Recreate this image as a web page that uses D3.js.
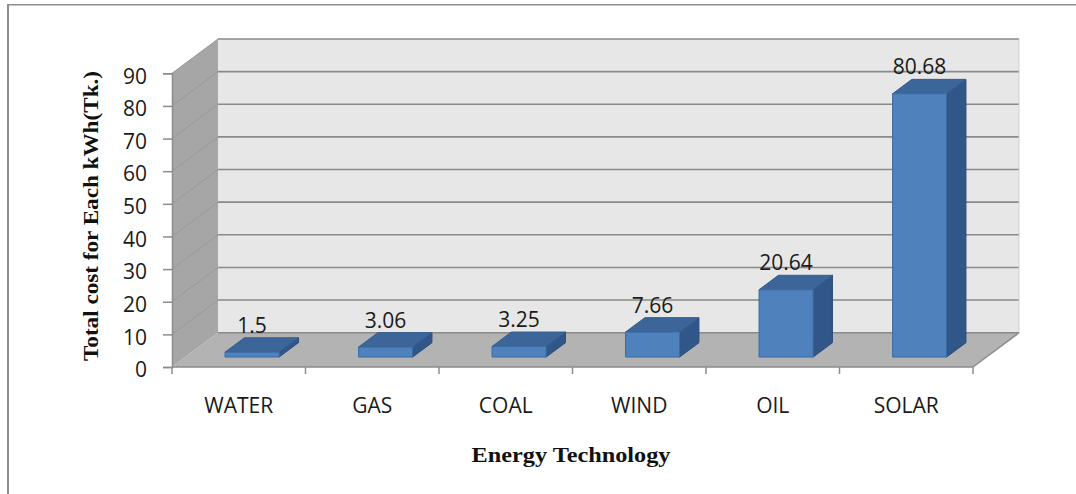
<!DOCTYPE html>
<html>
<head>
<meta charset="utf-8">
<script src="https://cdn.jsdelivr.net/npm/d3@7"></script>
<style>
  html, body { margin: 0; padding: 0; background: #ffffff; }
  svg { display: block; }
</style>
</head>
<body>
<svg id="chart" width="1076" height="494"></svg>
<script>
// Cost of generating one kWh by energy technology (Tk.)
const categories = ["WATER", "GAS", "COAL", "WIND", "OIL", "SOLAR"];
const costs = [1.5, 3.06, 3.25, 7.66, 20.64, 80.68];
const yTicks = [0, 10, 20, 30, 40, 50, 60, 70, 80, 90];
const yTitle = "Total cost for Each kWh(Tk.)";
const xTitle = "Energy Technology";

const svg = d3.select("#chart");

// front plane of the 3-D box
const x = d3.scaleBand().domain(categories).range([172, 973]).padding(0);
const y = d3.scaleLinear().domain([0, 90]).range([367, 73.3]);

// oblique depth vector (front plane -> back wall)
const DX = 46, DY = -34.3;
const P = (px, v, f) => [px + f * DX, y(v) + f * DY];

// bars sit in the middle of the depth
const f0 = 0.29, f1 = 0.71;
const barW = x.bandwidth() * 0.405;

const poly = pts => pts.map(p => p.join(",")).join(" ");
const sans = "'Open Sans', sans-serif";
const serif = "'Liberation Serif', serif";

// chart frame lines
svg.append("line").attr("x1", 8).attr("x2", 8).attr("y1", 4).attr("y2", 494)
  .attr("stroke", "#8e8e8e").attr("stroke-width", 2);
svg.append("line").attr("x1", 8).attr("x2", 1076).attr("y1", 4.75).attr("y2", 4.75)
  .attr("stroke", "#8e8e8e").attr("stroke-width", 1.5);

const [xa, xb] = x.range();
const walls = svg.append("g");

// back wall
walls.append("polygon")
  .attr("points", poly([P(xa, 0, 1), P(xb, 0, 1), P(xb, 90, 1), P(xa, 90, 1)]))
  .attr("fill", "#e7e7e7");
// side wall
walls.append("polygon")
  .attr("points", poly([P(xa, 0, 0), P(xa, 90, 0), P(xa, 90, 1), P(xa, 0, 1)]))
  .attr("fill", "#a6a6a6");
// floor
walls.append("polygon")
  .attr("points", poly([P(xa, 0, 0), P(xb, 0, 0), P(xb, 0, 1), P(xa, 0, 1)]))
  .attr("fill", "#b3b3b3");

// gridlines on side wall and back wall
yTicks.forEach(t => {
  const a = P(xa, t, 0), b = P(xa, t, 1), c = P(xb, t, 1);
  if (t > 0) {
    walls.append("line").attr("x1", a[0]).attr("y1", a[1]).attr("x2", b[0]).attr("y2", b[1])
      .attr("stroke", "#999999").attr("stroke-width", 1);
  }
  walls.append("line").attr("x1", b[0]).attr("y1", b[1]).attr("x2", c[0]).attr("y2", c[1])
    .attr("stroke", "#8a8a8a").attr("stroke-width", 1.6);
});
// back wall right edge
{
  const a = P(xb, 0, 1), b = P(xb, 90, 1);
  walls.append("line").attr("x1", a[0]).attr("y1", a[1]).attr("x2", b[0]).attr("y2", b[1])
    .attr("stroke", "#d0d0d0").attr("stroke-width", 1);
}
// floor edges
{
  const a = P(xa, 0, 0), b = P(xb, 0, 0), c = P(xb, 0, 1);
  walls.append("line").attr("x1", a[0]).attr("y1", a[1]).attr("x2", b[0]).attr("y2", b[1])
    .attr("stroke", "#8c8c8c").attr("stroke-width", 1.5);
  walls.append("line").attr("x1", b[0]).attr("y1", b[1]).attr("x2", c[0]).attr("y2", c[1])
    .attr("stroke", "#8c8c8c").attr("stroke-width", 1.5);
}

// y axis
const yAxis = svg.append("g").attr("transform", `translate(${xa},0)`)
  .call(d3.axisLeft(y).tickValues(yTicks).tickSize(9).tickPadding(16).tickFormat(d3.format("d")));
yAxis.select(".domain").attr("stroke", "#8c8c8c").attr("stroke-width", 1.5);
yAxis.selectAll(".tick line").attr("stroke", "#8c8c8c").attr("stroke-width", 1.5);
yAxis.selectAll(".tick text")
  .attr("y", 3)
  .attr("font-family", sans).attr("font-size", 21)
  .attr("fill", "#1a1a1a");

// x axis: category boundary ticks + labels
const xAxis = svg.append("g").attr("transform", `translate(0,${y(0)})`);
const bounds = categories.map(c => x(c)).concat([xb]);
xAxis.selectAll("line.bound").data(bounds).join("line")
  .attr("class", "bound")
  .attr("x1", d => d).attr("x2", d => d).attr("y1", 0).attr("y2", 7)
  .attr("stroke", "#8c8c8c").attr("stroke-width", 1.5);
xAxis.selectAll("text.cat").data(categories).join("text")
  .attr("class", "cat")
  .attr("x", d => x(d) + x.bandwidth() / 2)
  .attr("y", 46)
  .attr("text-anchor", "middle")
  .attr("font-family", sans).attr("font-size", 21)
  .attr("fill", "#1a1a1a")
  .text(d => d);

// bars
const data = categories.map((c, i) => ({ c, v: costs[i] }));
const bars = svg.append("g").selectAll("g").data(data).join("g");
bars.each(function (d) {
  const g = d3.select(this);
  const xl = x(d.c) + x.bandwidth() / 2 - barW / 2, xr = xl + barW;
  // right side face
  g.append("polygon")
    .attr("points", poly([P(xr, 0, f0), P(xr, 0, f1), P(xr, d.v, f1), P(xr, d.v, f0)]))
    .attr("fill", "#30568a").attr("stroke", "#2b4d7c").attr("stroke-width", 1);
  // top face
  g.append("polygon")
    .attr("points", poly([P(xl, d.v, f0), P(xr, d.v, f0), P(xr, d.v, f1), P(xl, d.v, f1)]))
    .attr("fill", "#3c6699").attr("stroke", "#345d8f").attr("stroke-width", 1);
  // front face
  g.append("polygon")
    .attr("points", poly([P(xl, 0, f0), P(xr, 0, f0), P(xr, d.v, f0), P(xl, d.v, f0)]))
    .attr("fill", "#4f81bd").attr("stroke", "#3b6aa3").attr("stroke-width", 1);
  // value label above the bar
  const top = P(xl, d.v, f1);
  g.append("text")
    .attr("x", (xl + xr) / 2 + f0 * DX)
    .attr("y", top[1] - 5)
    .attr("text-anchor", "middle")
    .attr("font-family", sans).attr("font-size", 21)
    .attr("fill", "#1a1a1a")
    .text(d.v);
});

// axis titles (stretched to the width of the wide serif face)
svg.append("text")
  .attr("transform", "translate(98,216) rotate(-90)")
  .attr("text-anchor", "middle")
  .attr("font-family", serif).attr("font-weight", "bold").attr("font-size", 20)
  .attr("textLength", 290).attr("lengthAdjust", "spacingAndGlyphs")
  .attr("fill", "#111")
  .text(yTitle);
svg.append("text")
  .attr("x", 571).attr("y", 462)
  .attr("text-anchor", "middle")
  .attr("font-family", serif).attr("font-weight", "bold").attr("font-size", 20)
  .attr("textLength", 199).attr("lengthAdjust", "spacingAndGlyphs")
  .attr("fill", "#111")
  .text(xTitle);
</script>
</body>
</html>
